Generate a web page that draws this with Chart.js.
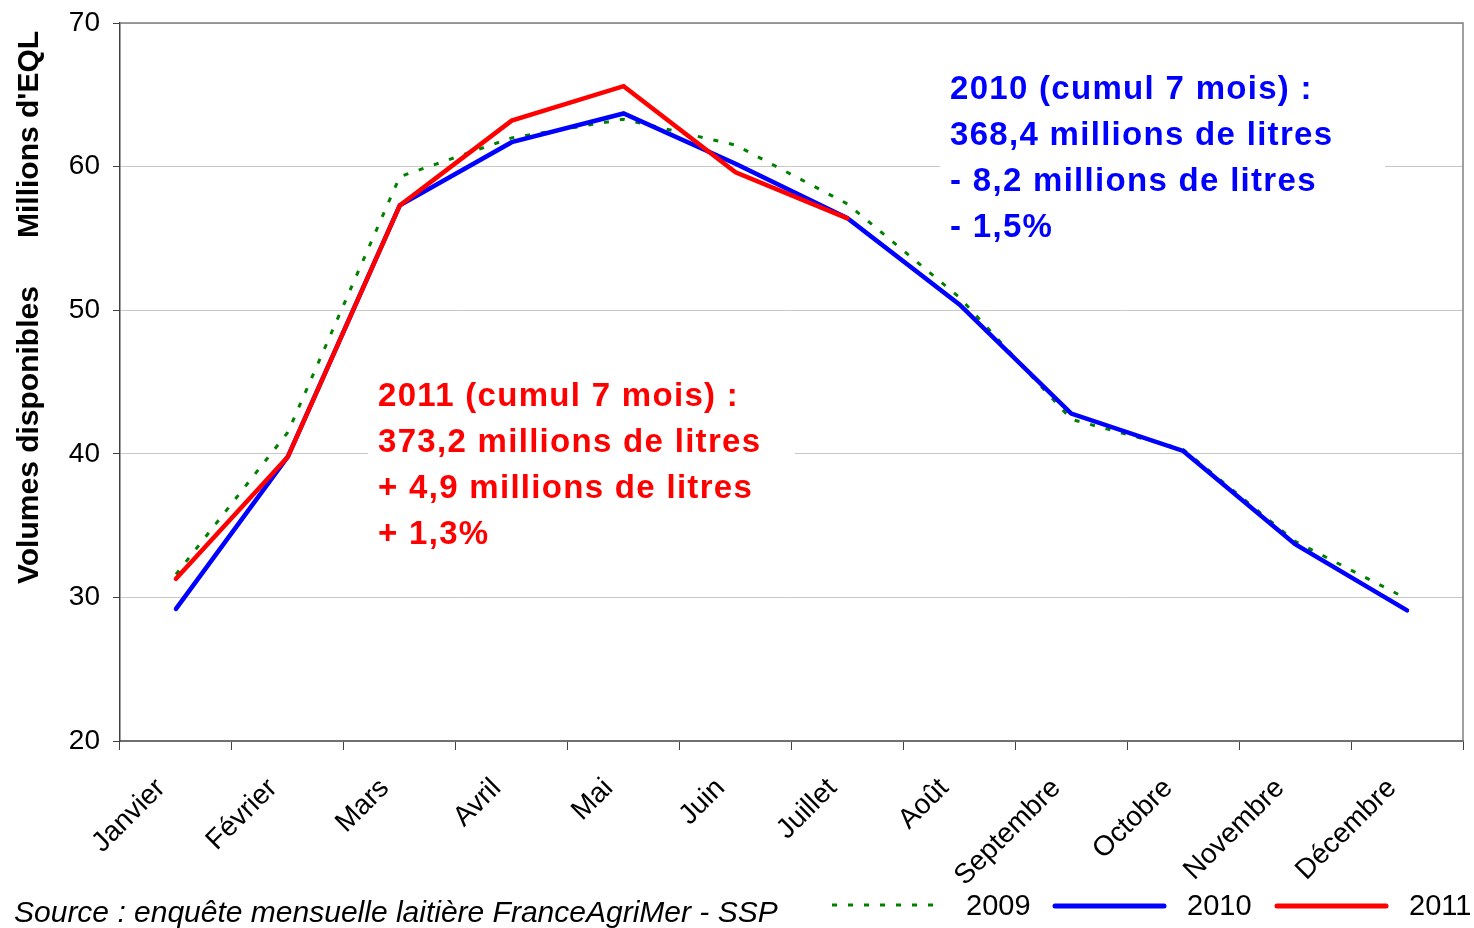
<!DOCTYPE html>
<html>
<head>
<meta charset="utf-8">
<script src="https://cdn.jsdelivr.net/npm/chart.js@4"></script>
<style>
  body { margin: 0; background: #fff; }
  #wrap { width: 1474px; height: 928px; position: relative; }
</style>
</head>
<body>
<div id="wrap"><canvas id="chartId"></canvas></div>
<script>
const months = ['Janvier', 'Février', 'Mars', 'Avril', 'Mai', 'Juin', 'Juillet', 'Août', 'Septembre', 'Octobre', 'Novembre', 'Décembre'];
const vol2009 = [31.6, 41.5, 59.3, 62.0, 63.3, 61.5, 57.4, 50.9, 42.4, 40.3, 33.9, 29.9];
const vol2010 = [29.2, 39.8, 57.3, 61.7, 63.7, 60.2, 56.4, 50.4, 42.8, 40.2, 33.7, 29.1];
const vol2011 = [31.3, 39.8, 57.3, 63.2, 65.6, 59.6, 56.4];
const yTicks = [20, 30, 40, 50, 60, 70];

const note2011 = ['2011 (cumul 7 mois) :', '373,2 millions de litres', '+ 4,9 millions de litres', '+ 1,3%'];
const note2010 = ['2010 (cumul 7 mois) :', '368,4 millions de litres', '- 8,2 millions de litres', '- 1,5%'];

const FONT = '"Liberation Sans", Arial, sans-serif';

// white text boxes with the notes, they hide the gridlines behind them
function drawNote(ctx, lines, color, x, y, box) {
    ctx.save();
    ctx.fillStyle = '#fff';
    ctx.fillRect(box[0], box[1], box[2], box[3]);
    ctx.fillStyle = color;
    ctx.font = 'bold 33px ' + FONT;
    ctx.letterSpacing = '1.3px';
    ctx.textBaseline = 'alphabetic';
    lines.forEach(function(l, i) {
        ctx.fillText(l, x, y + i * 46);
    });
    ctx.restore();
}

const extras = {
    id: 'extras',
    beforeDatasetsDraw(chart) {
        const ctx = chart.ctx;
        const a = chart.chartArea;
        // plot frame top and right
        ctx.save();
        ctx.strokeStyle = '#808080';
        ctx.lineWidth = 1.5;
        ctx.beginPath();
        ctx.moveTo(a.left, a.top);
        ctx.lineTo(a.right, a.top);
        ctx.lineTo(a.right, a.bottom);
        ctx.stroke();
        ctx.restore();

        drawNote(ctx, note2011, '#ff0000', 378, 406, [368, 372, 427, 186]);
        drawNote(ctx, note2010, '#0000ff', 950, 99, [940, 66, 445, 186]);
    },
    afterDraw(chart) {
        const ctx = chart.ctx;
        ctx.save();
        // y axis title
        ctx.fillStyle = '#000';
        ctx.font = 'bold 30px ' + FONT;
        ctx.textBaseline = 'middle';
        ctx.translate(30, 0);
        ctx.rotate(-Math.PI / 2);
        ctx.textAlign = 'left';
        ctx.fillText('Volumes disponibles', -584, 0);
        ctx.fillText("Millions d'EQL", -238, 0);
        ctx.restore();

        // legend
        ctx.save();
        ctx.lineCap = 'butt';
        ctx.strokeStyle = '#008000';
        ctx.lineWidth = 3;
        ctx.setLineDash([5, 11]);
        ctx.beginPath();
        ctx.moveTo(832, 905);
        ctx.lineTo(940, 905);
        ctx.stroke();
        ctx.setLineDash([]);
        ctx.lineCap = 'round';
        ctx.lineWidth = 5;
        ctx.strokeStyle = '#0000ff';
        ctx.beginPath();
        ctx.moveTo(1055, 906);
        ctx.lineTo(1164, 906);
        ctx.stroke();
        ctx.strokeStyle = '#ff0000';
        ctx.beginPath();
        ctx.moveTo(1277, 906);
        ctx.lineTo(1386, 906);
        ctx.stroke();

        ctx.fillStyle = '#000';
        ctx.font = '29px ' + FONT;
        ctx.textBaseline = 'alphabetic';
        ctx.fillText('2009', 966, 915);
        ctx.fillText('2010', 1187, 915);
        ctx.fillText('2011', 1409, 915);

        ctx.font = 'italic 30px ' + FONT;
        ctx.fillText('Source : enquête mensuelle laitière FranceAgriMer - SSP', 14, 922);
        ctx.restore();
    }
};

const ctx = document.getElementById('chartId').getContext('2d');
const chart = new Chart(ctx, {
    type: 'line',
    data: {
        labels: months,
        datasets: [
            {
                label: '2009',
                data: vol2009,
                borderColor: '#008000',
                borderWidth: 3,
                borderDash: [5, 11],
                order: 3
            },
            {
                label: '2010',
                data: vol2010,
                borderColor: '#0000ff',
                borderWidth: 4.5,
                borderCapStyle: 'round',
                order: 2
            },
            {
                label: '2011',
                data: vol2011,
                borderColor: '#ff0000',
                borderWidth: 4.5,
                borderCapStyle: 'round',
                order: 1
            }
        ]
    },
    options: {
        responsive: true,
        maintainAspectRatio: false,
        animation: false,
        events: [],
        layout: { padding: { top: 23, right: 11, left: 0, bottom: 0 } },
        elements: {
            point: { radius: 0 },
            line: { tension: 0, fill: false }
        },
        plugins: {
            legend: { display: false },
            tooltip: { enabled: false }
        },
        scales: {
            x: {
                type: 'category',
                offset: true,
                afterFit: function(s) {
                    s.height = 187;
                    s.paddingLeft = 0;
                    s.paddingRight = 0;
                },
                grid: {
                    offset: true,
                    drawOnChartArea: false,
                    drawTicks: true,
                    tickLength: 9,
                    tickColor: '#404040'
                },
                border: { color: '#707070', width: 2 },
                ticks: {
                    autoSkip: false,
                    minRotation: 45,
                    maxRotation: 45,
                    padding: 22,
                    labelOffset: -15,
                    color: '#000',
                    font: { family: FONT, size: 28 }
                }
            },
            y: {
                min: 20,
                max: 70,
                afterFit: function(s) {
                    s.width = 120;
                    s.paddingTop = 0;
                    s.paddingBottom = 0;
                },
                afterBuildTicks: function(s) {
                    s.ticks = yTicks.map(function(v) { return { value: v }; });
                },
                grid: {
                    color: '#c8c8c8',
                    lineWidth: 1,
                    tickLength: 7,
                    tickColor: '#404040'
                },
                border: { color: '#404040', width: 1.5 },
                ticks: {
                    padding: 13,
                    color: '#000',
                    font: { family: FONT, size: 28 }
                }
            }
        }
    },
    plugins: [extras]
});
</script>
</body>
</html>
